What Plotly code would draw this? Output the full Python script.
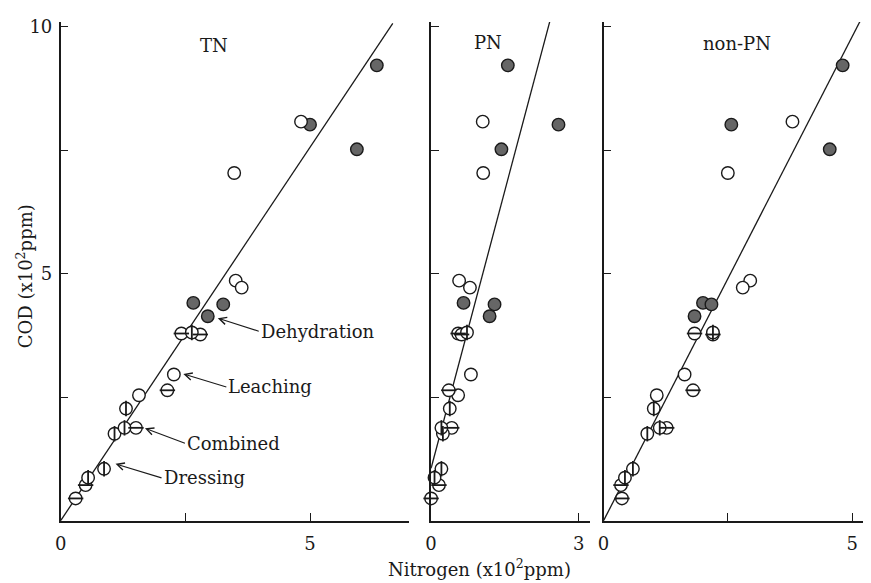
import plotly.graph_objects as go

# ---- data (x10^2 ppm) ----
group = (['Dehydration'] * 6 + ['Leaching'] * 6 +
         ['Combined'] * 6 + ['Dressing'] * 6)
cod = [9.22, 8.02, 7.52, 4.41, 4.38, 4.14,
       8.08, 7.04, 4.86, 4.72, 2.96, 2.54,
       3.79, 3.77, 2.64, 1.88, 0.72, 0.45,
       3.81, 2.27, 1.76, 1.88, 1.05, 0.87]
tn = [6.34, 5.00, 5.94, 2.66, 3.26, 2.95,
      4.82, 3.48, 3.51, 3.63, 2.27, 1.57,
      2.42, 2.80, 2.14, 1.51, 0.50, 0.30,
      2.63, 1.31, 1.08, 1.28, 0.87, 0.55]
pn = [1.56, 2.59, 1.43, 0.66, 1.29, 1.19,
      1.05, 1.06, 0.57, 0.79, 0.81, 0.55,
      0.55, 0.62, 0.36, 0.42, 0.16, 0.00,
      0.73, 0.38, 0.24, 0.21, 0.21, 0.07]
npn = [4.81, 2.57, 4.55, 2.00, 2.17, 1.83,
       3.80, 2.50, 2.95, 2.80, 1.63, 1.07,
       1.83, 2.20, 1.80, 1.27, 0.35, 0.37,
       2.20, 1.01, 0.88, 1.13, 0.59, 0.43]

panel_names = ['TN', 'PN', 'non-PN']
fit_intercept = [0.0, 1.06, 0.0]
fit_slope = [1.512, 3.75, 1.96]
fit_xmax = [6.66, 2.44, 5.2]
x_ranges = [[0, 6.99], [0, 3.23], [0, 5.38]]
x_tickvals = [[0, 2.5, 5], [0, 3], [0, 2.5, 5]]
x_ticktext = [['0', '', '5'], ['0', '3'], ['0', '', '5']]
y_tickvals = [0, 2.5, 5, 7.5, 10]
y_ticktext = ['', '', '5', '', '10']

# page offset (browser body margin) -> figure is drawn 8px right/down
OFF = 8
W, H = 871 - OFF, 583 - OFF


def px_x(p):
    return (p - OFF) / W


def px_y(p):
    return 1 - (p - OFF) / H


x_dom = [[px_x(55), px_x(406)], [px_x(428), px_x(588)], [px_x(601.7), 1.0]]
y_dom = [px_y(520), px_y(16)]

FONT = 'DejaVu Serif'
INK = '#1a1a1a'
FILL_DARK = '#666666'

fig = go.Figure()
xs_all = [tn, pn, npn]

for i in range(3):
    xa = 'x' if i == 0 else f'x{i+1}'
    ya = 'y' if i == 0 else f'y{i+1}'
    xv = xs_all[i]
    lx = [0, fit_xmax[i]]
    ly = [fit_intercept[i] + fit_slope[i] * v for v in lx]
    fig.add_trace(go.Scatter(x=lx, y=ly, mode='lines', xaxis=xa, yaxis=ya,
                             line=dict(color=INK, width=1.3), showlegend=False,
                             hoverinfo='skip'))
    idx = [k for k, g in enumerate(group) if g == 'Dehydration']
    fig.add_trace(go.Scatter(x=[xv[k] for k in idx], y=[cod[k] for k in idx],
                             mode='markers', xaxis=xa, yaxis=ya, cliponaxis=False,
                             marker=dict(symbol='circle', size=12.5, color=FILL_DARK,
                                         line=dict(color=INK, width=1.4)),
                             name='Dehydration', showlegend=False))
    idx = [k for k, g in enumerate(group) if g != 'Dehydration']
    fig.add_trace(go.Scatter(x=[xv[k] for k in idx], y=[cod[k] for k in idx],
                             mode='markers', xaxis=xa, yaxis=ya, cliponaxis=False,
                             marker=dict(symbol='circle', size=12.5, color='white',
                                         line=dict(color=INK, width=1.4)),
                             showlegend=False))
    for g, sym in (('Combined', 'line-ew'), ('Dressing', 'line-ns')):
        idx = [k for k, gg in enumerate(group) if gg == g]
        fig.add_trace(go.Scatter(x=[xv[k] for k in idx], y=[cod[k] for k in idx],
                                 mode='markers', xaxis=xa, yaxis=ya, cliponaxis=False,
                                 marker=dict(symbol=sym, size=11, color=INK,
                                             line=dict(color=INK, width=1.8)),
                                 name=g, showlegend=False))

axis_common = dict(showline=True, linecolor=INK, linewidth=1.5, showgrid=False,
                   zeroline=False, ticks='inside', tickcolor=INK, tickwidth=1.3,
                   ticklen=8, tickfont=dict(family=FONT, size=18, color=INK))
layout = dict(width=W, height=H, margin=dict(l=0, r=0, t=0, b=0),
              paper_bgcolor='white', plot_bgcolor='white', showlegend=False)
for i in range(3):
    xk = 'xaxis' if i == 0 else f'xaxis{i+1}'
    yk = 'yaxis' if i == 0 else f'yaxis{i+1}'
    ya = 'y' if i == 0 else f'y{i+1}'
    xa = 'x' if i == 0 else f'x{i+1}'
    layout[xk] = dict(axis_common, domain=x_dom[i], range=x_ranges[i], anchor=ya,
                      tickmode='array', tickvals=x_tickvals[i],
                      ticktext=x_ticktext[i], ticklabelstandoff=6)
    layout[yk] = dict(axis_common, domain=y_dom, range=[0, 10.1], anchor=xa,
                      tickmode='array', tickvals=y_tickvals,
                      ticktext=y_ticktext if i == 0 else [''] * 5,
                      ticklabelstandoff=3)
fig.update_layout(**layout)

ann = []
title_pos = [(209, 40), (485, 37), (736, 38)]
for name, (px, py) in zip(panel_names, title_pos):
    ann.append(dict(text=name, x=px_x(px), y=px_y(py), xref='paper', yref='paper',
                    xanchor='center', yanchor='middle',
                    showarrow=False, font=dict(family=FONT, size=18, color=INK)))

labels = [('Dehydration', 3.15, 4.10, 41, 13),
          ('Leaching', 2.46, 2.97, 43, 13),
          ('Combined', 1.69, 1.87, 40, 15),
          ('Dressing', 1.10, 1.15, 46, 14)]
for text, hx, hy, ax, ay in labels:
    ann.append(dict(text=text, x=hx, y=hy, xref='x', yref='y', ax=ax, ay=ay,
                    xanchor='left', yanchor='middle', showarrow=True, arrowhead=5,
                    arrowsize=1.3, arrowwidth=1.1, arrowcolor=INK, standoff=0,
                    font=dict(family=FONT, size=18, color=INK)))

ann.append(dict(text='COD (x10<sup>2</sup>ppm)', x=px_x(19), y=px_y(273),
                xref='paper', yref='paper', xanchor='center', yanchor='middle',
                showarrow=False, textangle=-90,
                font=dict(family=FONT, size=18, color=INK)))
ann.append(dict(text='Nitrogen (x10<sup>2</sup>ppm)', x=px_x(477), y=px_y(568),
                xref='paper', yref='paper', xanchor='center', yanchor='middle',
                showarrow=False, font=dict(family=FONT, size=18, color=INK)))
fig.update_layout(annotations=ann)

fig.write_html('out.html')
